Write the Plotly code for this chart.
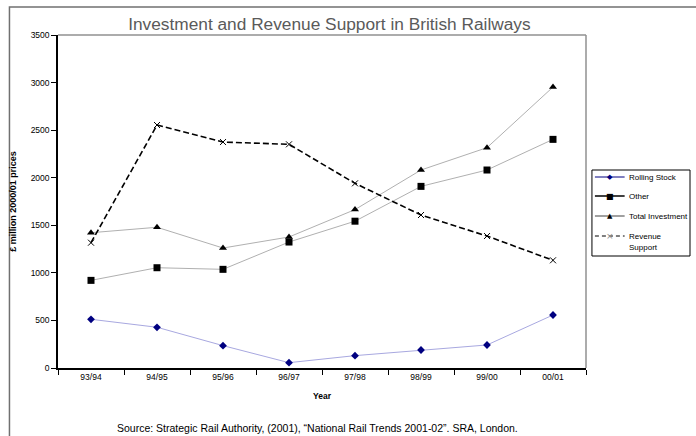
import plotly.graph_objects as go

years = ["93/94", "94/95", "95/96", "96/97", "97/98", "98/99", "99/00", "00/01"]
rolling_stock = [512, 428, 235, 56, 130, 189, 242, 557]
other = [921, 1054, 1037, 1324, 1543, 1909, 2081, 2403]
total_investment = [1422, 1479, 1261, 1377, 1665, 2081, 2316, 2953]
revenue_support = [1317, 2554, 2375, 2351, 1941, 1608, 1387, 1132]

series_names = ["Rolling Stock", "Other", "Total Investment", "Revenue Support"]

FONT = "Liberation Sans, Arial, sans-serif"

fig = go.Figure()

fig.add_trace(go.Scatter(
    x=years, y=rolling_stock, mode="lines+markers", name=series_names[0],
    line=dict(color="#a8a8e0", width=1),
    marker=dict(symbol="diamond", size=6, color="#000080"),
))
fig.add_trace(go.Scatter(
    x=years, y=other, mode="lines+markers", name=series_names[1],
    line=dict(color="#b0b0b0", width=1),
    marker=dict(symbol="square", size=7, color="black"),
))
fig.add_trace(go.Scatter(
    x=years, y=total_investment, mode="lines+markers", name=series_names[2],
    line=dict(color="#b0b0b0", width=1),
    marker=dict(symbol="triangle-up", size=7, color="black"),
))
fig.add_trace(go.Scatter(
    x=years, y=revenue_support, mode="lines+markers", name=series_names[3],
    line=dict(color="black", width=1.6, dash="6px,3px"),
    marker=dict(symbol="x-thin-open", size=6, line=dict(color="#a0a0a0", width=1)),
))

W, H = 696, 436
L, R, T, B = 53, 586, 35, 368
pw, ph = R - L, B - T


def px_x(x):
    return (x - L) / pw


def px_y(y):
    return (B - y) / ph


shapes = [
    # outer frame
    dict(type="rect", xref="paper", yref="paper",
         x0=px_x(4), x1=px_x(700), y0=px_y(440), y1=px_y(7),
         line=dict(color="#707070", width=1.5), layer="below"),
    # plot area top and right border
    dict(type="line", xref="paper", yref="paper", x0=0, x1=1, y0=1, y1=1,
         line=dict(color="#909090", width=1.5)),
    dict(type="line", xref="paper", yref="paper", x0=1, x1=1, y0=0, y1=1,
         line=dict(color="#909090", width=1.5)),
    # legend box
    dict(type="rect", xref="paper", yref="paper",
         x0=px_x(592), x1=px_x(691), y0=px_y(256), y1=px_y(170),
         line=dict(color="black", width=1), fillcolor="white"),
]

annotations = [
    dict(text="Source: Strategic Rail Authority, (2001), \u201cNational Rail Trends 2001-02\u201d. SRA, London.",
         xref="paper", yref="paper", x=px_x(315), y=px_y(428),
         xanchor="center", yanchor="middle", showarrow=False,
         font=dict(family=FONT, size=10.5, color="black")),
]

# legend rows: line style, glyph, label
legend_rows = [
    (177, dict(color="#000080", width=1), "\u25C6", "#000080", 7, ["Rolling Stock"]),
    (196, dict(color="black", width=1.5), "\u25A0", "black", 8, ["Other"]),
    (216, dict(color="#808080", width=1.5), "\u25B2", "black", 7, ["Total Investment"]),
    (236, dict(color="black", width=1, dash="4px,3px"), "\u00D7", "#909090", 9, ["Revenue", "Support"]),
]
for yy, ln, glyph, gcol, gsize, labels in legend_rows:
    shapes.append(dict(type="line", xref="paper", yref="paper",
                       x0=px_x(595), x1=px_x(625), y0=px_y(yy), y1=px_y(yy), line=ln))
    annotations.append(dict(text=glyph, xref="paper", yref="paper",
                            x=px_x(610), y=px_y(yy), xanchor="center", yanchor="middle",
                            showarrow=False,
                            font=dict(family="DejaVu Sans", size=gsize, color=gcol)))
    for i, lab in enumerate(labels):
        annotations.append(dict(text=lab, xref="paper", yref="paper",
                                x=px_x(627), y=px_y(yy + 11 * i), xanchor="left", yanchor="middle",
                                showarrow=False,
                                font=dict(family=FONT, size=8, color="black")))

fig.update_layout(
    width=W, height=H,
    margin=dict(l=L, r=W - R, t=T, b=H - B),
    paper_bgcolor="white", plot_bgcolor="white",
    font=dict(family=FONT, size=8, color="black"),
    title=dict(text="Investment and Revenue Support in British Railways",
               x=px_x(327), xref="paper", xanchor="center",
               y=1 - 24 / H, yanchor="middle",
               font=dict(family=FONT, size=17.3, color="#5a5a5a")),
    shapes=shapes,
    annotations=annotations,
    showlegend=False,
)

fig.update_xaxes(
    type="category", range=[-0.5, 7.5], tickson="boundaries",
    ticks="outside", ticklen=5, tickcolor="black",
    showline=True, linecolor="black", linewidth=1.5, showgrid=False,
    tickfont=dict(size=8.5),
    title=dict(text="<b>Year</b>", font=dict(size=8.5), standoff=12),
)
fig.update_yaxes(
    range=[0, 3500], dtick=500, ticks="outside", ticklen=5, tickcolor="black",
    showline=True, linecolor="black", linewidth=1.5, showgrid=False, zeroline=False,
    tickfont=dict(size=8.5),
    title=dict(text="<b>\u00a3 million 2000/01 prices</b>", font=dict(size=9), standoff=12),
)

fig.write_html("out.html")
